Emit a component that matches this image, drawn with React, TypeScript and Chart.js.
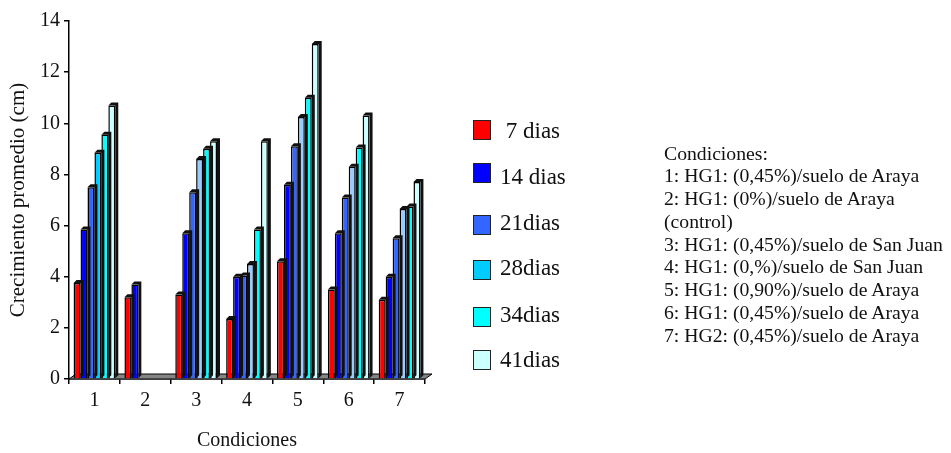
import React, { useEffect, useRef } from 'react';
import { Chart, registerables } from 'chart.js';

Chart.register(...registerables);

// Growth per condition, one array per sampling day
const categories = ['1', '2', '3', '4', '5', '6', '7'];
const dias7 = [3.75, 3.2, 3.3, 2.35, 4.6, 3.5, 3.1];
const dias14 = [5.85, 3.7, 5.7, 4.0, 7.6, 5.7, 4.0];
const dias21 = [7.5, 0, 7.3, 4.05, 9.1, 7.1, 5.5];
const dias28 = [8.85, 0, 8.6, 4.5, 10.25, 8.3, 6.65];
const dias34 = [9.55, 0, 9.0, 5.85, 11.0, 9.05, 6.75];
const dias41 = [10.7, 0, 9.3, 9.3, 13.1, 10.3, 7.7];

const seriesLabels = [' 7 dias', '14 dias', '21dias', '28dias', '34dias', '41dias'];
const seriesColors = ['#FF0000', '#0000FF', '#3366FF', '#00CCFF', '#00FFFF', '#CCFFFF'];
const dias28BarColors = ['#00CCFF', '#99CCFF', '#99CCFF', '#99CCFF', '#99CCFF', '#99CCFF', '#99CCFF'];

const yMin = 0;
const yMax = 14;
const yStep = 2;

const conditionLines = [
  'Condiciones:',
  '1: HG1: (0,45%)/suelo de Araya',
  '2: HG1: (0%)/suelo de Araya',
  '(control)',
  '3: HG1: (0,45%)/suelo de San Juan',
  '4: HG1: (0,%)/suelo de San Juan',
  '5: HG1: (0,90%)/suelo de Araya',
  '6: HG1: (0,45%)/suelo de Araya',
  '7: HG2: (0,45%)/suelo de Araya',
];

const FONT = "'Liberation Serif', 'Times New Roman', serif";
const TEXT = '#111';
const DEPTH = 3;

// Legend rows: box top and text centre
const legendBoxTops = [120, 163, 215, 260, 307, 350];
const legendTextMid = [131, 177, 223, 268, 315, 360];

// Gray floor under the bars and a dark top/right face on each bar
const depthPlugin = {
  id: 'barDepth',
  beforeDatasetsDraw(chart: any) {
    const { ctx, chartArea } = chart;
    const y0 = chart.scales.y.getPixelForValue(0);
    ctx.save();
    ctx.beginPath();
    ctx.moveTo(chartArea.left, y0);
    ctx.lineTo(chartArea.right, y0);
    ctx.lineTo(chartArea.right + 7, y0 - 5);
    ctx.lineTo(chartArea.left + 7, y0 - 5);
    ctx.closePath();
    ctx.fillStyle = '#858585';
    ctx.fill();
    ctx.lineWidth = 1;
    ctx.strokeStyle = '#000';
    ctx.stroke();
    ctx.restore();
  },
  afterDatasetDraw(chart: any, args: any) {
    const { ctx } = chart;
    const ds = chart.data.datasets[args.index];
    ctx.save();
    ctx.fillStyle = '#111';
    args.meta.data.forEach((bar: any, i: number) => {
      const v = ds.data[i];
      if (!v) return;
      const { x, y, base, width } = bar.getProps(['x', 'y', 'base', 'width'], true);
      const l = x - width / 2;
      const r = x + width / 2;
      ctx.beginPath();
      ctx.moveTo(l, y);
      ctx.lineTo(l + DEPTH, y - DEPTH);
      ctx.lineTo(r + DEPTH, y - DEPTH);
      ctx.lineTo(r + DEPTH, base - DEPTH);
      ctx.lineTo(r, base);
      ctx.lineTo(r, y);
      ctx.closePath();
      ctx.fill();
    });
    ctx.restore();
  },
};

export default function App() {
  const canvasRef = useRef<HTMLCanvasElement>(null);

  useEffect(() => {
    const values = [dias7, dias14, dias21, dias28, dias34, dias41];
    const chart = new Chart(canvasRef.current as HTMLCanvasElement, {
      type: 'bar',
      data: {
        labels: categories,
        datasets: values.map((d, i) => ({
          label: seriesLabels[i],
          data: d,
          backgroundColor: i === 3 ? dias28BarColors : seriesColors[i],
          borderColor: '#000',
          borderWidth: 1.5,
          categoryPercentage: 0.82,
          barPercentage: 1.0,
        })),
      },
      options: {
        responsive: false,
        maintainAspectRatio: false,
        animation: false,
        devicePixelRatio: 1,
        layout: { padding: { left: 0, right: 526, top: 21, bottom: 0 } },
        plugins: {
          legend: { display: false },
          tooltip: { enabled: false },
        },
        scales: {
          x: {
            offset: true,
            ticks: { color: TEXT, font: { family: FONT, size: 20 }, padding: 5 },
            grid: { offset: true, drawOnChartArea: false, drawTicks: true, tickLength: 5, color: '#000', lineWidth: 1.5 },
            border: { color: '#000', width: 1.5 },
            title: { display: true, text: 'Condiciones', color: TEXT, font: { family: FONT, size: 20 }, padding: 0 },
            afterFit: (s: any) => { s.height = 74; },
          },
          y: {
            min: yMin,
            max: yMax,
            ticks: { stepSize: yStep, color: TEXT, font: { family: FONT, size: 20 }, padding: 4 },
            grid: { drawOnChartArea: false, drawTicks: true, tickLength: 5, color: '#000', lineWidth: 1.5 },
            border: { color: '#000', width: 1.5 },
            title: { display: true, text: 'Crecimiento promedio (cm)', color: TEXT, font: { family: FONT, size: 21 }, padding: { top: 6, bottom: 0 } },
            afterFit: (s: any) => { s.width = 69; },
          },
        },
      } as any,
      plugins: [depthPlugin],
    });
    return () => chart.destroy();
  }, []);

  return (
    <div style={{ position: 'absolute', left: 0, top: 0, width: 951, height: 453, background: '#fff', fontFamily: FONT, color: TEXT }}>
      <canvas ref={canvasRef} width={951} height={453} style={{ position: 'absolute', left: 0, top: 0, width: 951, height: 453 }} />
      {seriesLabels.map((label, i) => (
        <React.Fragment key={label}>
          <div
            style={{
              position: 'absolute',
              left: 473,
              top: legendBoxTops[i],
              width: 16,
              height: 18,
              background: seriesColors[i],
              border: '1.5px solid #222',
            }}
          />
          <div
            style={{
              position: 'absolute',
              left: 500,
              top: legendTextMid[i] - 12,
              height: 24,
              lineHeight: '24px',
              fontSize: 23,
              whiteSpace: 'pre',
            }}
          >
            {label}
          </div>
        </React.Fragment>
      ))}
      <div style={{ position: 'absolute', left: 664, top: 141.5, fontSize: 19.7, lineHeight: '22.75px', whiteSpace: 'pre' }}>
        {conditionLines.map((line) => (
          <div key={line}>{line}</div>
        ))}
      </div>
    </div>
  );
}
